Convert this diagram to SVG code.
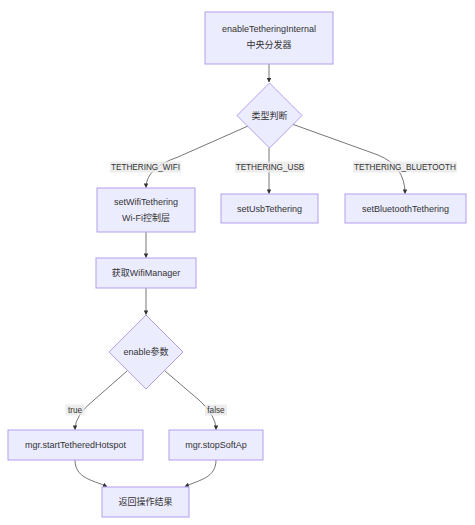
<svg xmlns="http://www.w3.org/2000/svg" width="475" height="525" viewBox="0 0 475 525">
<style>
.node rect,.node polygon{fill:#ECECFF;stroke:#B39DEB;stroke-width:1}
text{font-family:"Liberation Sans","Noto Sans CJK SC",sans-serif;fill:#333;font-size:9px;text-anchor:middle;dominant-baseline:central}
.edge{fill:none;stroke:#666;stroke-width:0.9}
.lbl rect{fill:#e8e8e8;opacity:0.8}
.lbl text{font-size:8.2px}
</style>
<defs>
<marker id="arr" viewBox="0 0 10 10" refX="9" refY="5" markerWidth="4.5" markerHeight="4.5" orient="auto-start-reverse" markerUnits="userSpaceOnUse">
<path d="M0,0 L10,5 L0,10 z" fill="#333"/>
</marker>
</defs>
<rect width="475" height="525" fill="#fff"/>
<g id="connectors">
<path class="edge" d="M269,64 L269,82" marker-end="url(#arr)"/>
<path class="edge" d="M248,126 L178,157 Q146,168 146,187.5" marker-end="url(#arr)"/>
<path class="edge" d="M269,148 L269,193.5" marker-end="url(#arr)"/>
<path class="edge" d="M292,124 L378,155 Q405,166 405,193.5" marker-end="url(#arr)"/>
<path class="edge" d="M146,232 L146,257.5" marker-end="url(#arr)"/>
<path class="edge" d="M146,288 L146,314.5" marker-end="url(#arr)"/>
<path class="edge" d="M127,371 L94,400 Q75,415 75,429.5" marker-end="url(#arr)"/>
<path class="edge" d="M165,371 L199,400 Q216,415 216,429.5" marker-end="url(#arr)"/>
<path class="edge" d="M75,460 C75,478 92,480 107,486.5" marker-end="url(#arr)"/>
<path class="edge" d="M216,460 C216,478 199,480 185,486.5" marker-end="url(#arr)"/>
</g>
<g id="edge-labels">
<g class="lbl"><rect x="110" y="161.5" width="71" height="11"/><text x="145.5" y="167">TETHERING_WIFI</text></g>
<g class="lbl"><rect x="235" y="161.5" width="70" height="11"/><text x="270" y="167">TETHERING_USB</text></g>
<g class="lbl"><rect x="353" y="161.5" width="104" height="11"/><text x="405" y="167">TETHERING_BLUETOOTH</text></g>
<g class="lbl"><rect x="65.5" y="404.5" width="19" height="11"/><text x="75" y="410">true</text></g>
<g class="lbl"><rect x="205" y="404.5" width="22" height="11"/><text x="216" y="410">false</text></g>
</g>
<g id="n-internal" class="node"><rect x="205" y="12" width="128" height="52"/><text x="269" y="29">enableTetheringInternal</text><text x="269" y="45">中央分发器</text></g>
<g id="n-type" class="node"><polygon points="269.5,83 302,115.5 269.5,148 237,115.5"/><text x="269.5" y="115.5">类型判断</text></g>
<g id="n-wifi" class="node"><rect x="97" y="188" width="98" height="44"/><text x="146" y="202">setWifiTethering</text><text x="146" y="218">Wi-Fi控制层</text></g>
<g id="n-usb" class="node"><rect x="221" y="194" width="97" height="29"/><text x="269.5" y="208.5">setUsbTethering</text></g>
<g id="n-bt" class="node"><rect x="345" y="194" width="121" height="29"/><text x="405.5" y="208.5">setBluetoothTethering</text></g>
<g id="n-mgr" class="node"><rect x="96" y="258" width="100" height="30"/><text x="146" y="273">获取WifiManager</text></g>
<g id="n-enable" class="node"><polygon points="146,315 183,352 146,389 109,352"/><text x="146" y="352">enable参数</text></g>
<g id="n-start" class="node"><rect x="8" y="430" width="135" height="30"/><text x="75.5" y="445">mgr.startTetheredHotspot</text></g>
<g id="n-stop" class="node"><rect x="169" y="430" width="94" height="30"/><text x="216" y="445">mgr.stopSoftAp</text></g>
<g id="n-result" class="node"><rect x="102" y="487" width="87" height="30"/><text x="145.5" y="502">返回操作结果</text></g>
</svg>
